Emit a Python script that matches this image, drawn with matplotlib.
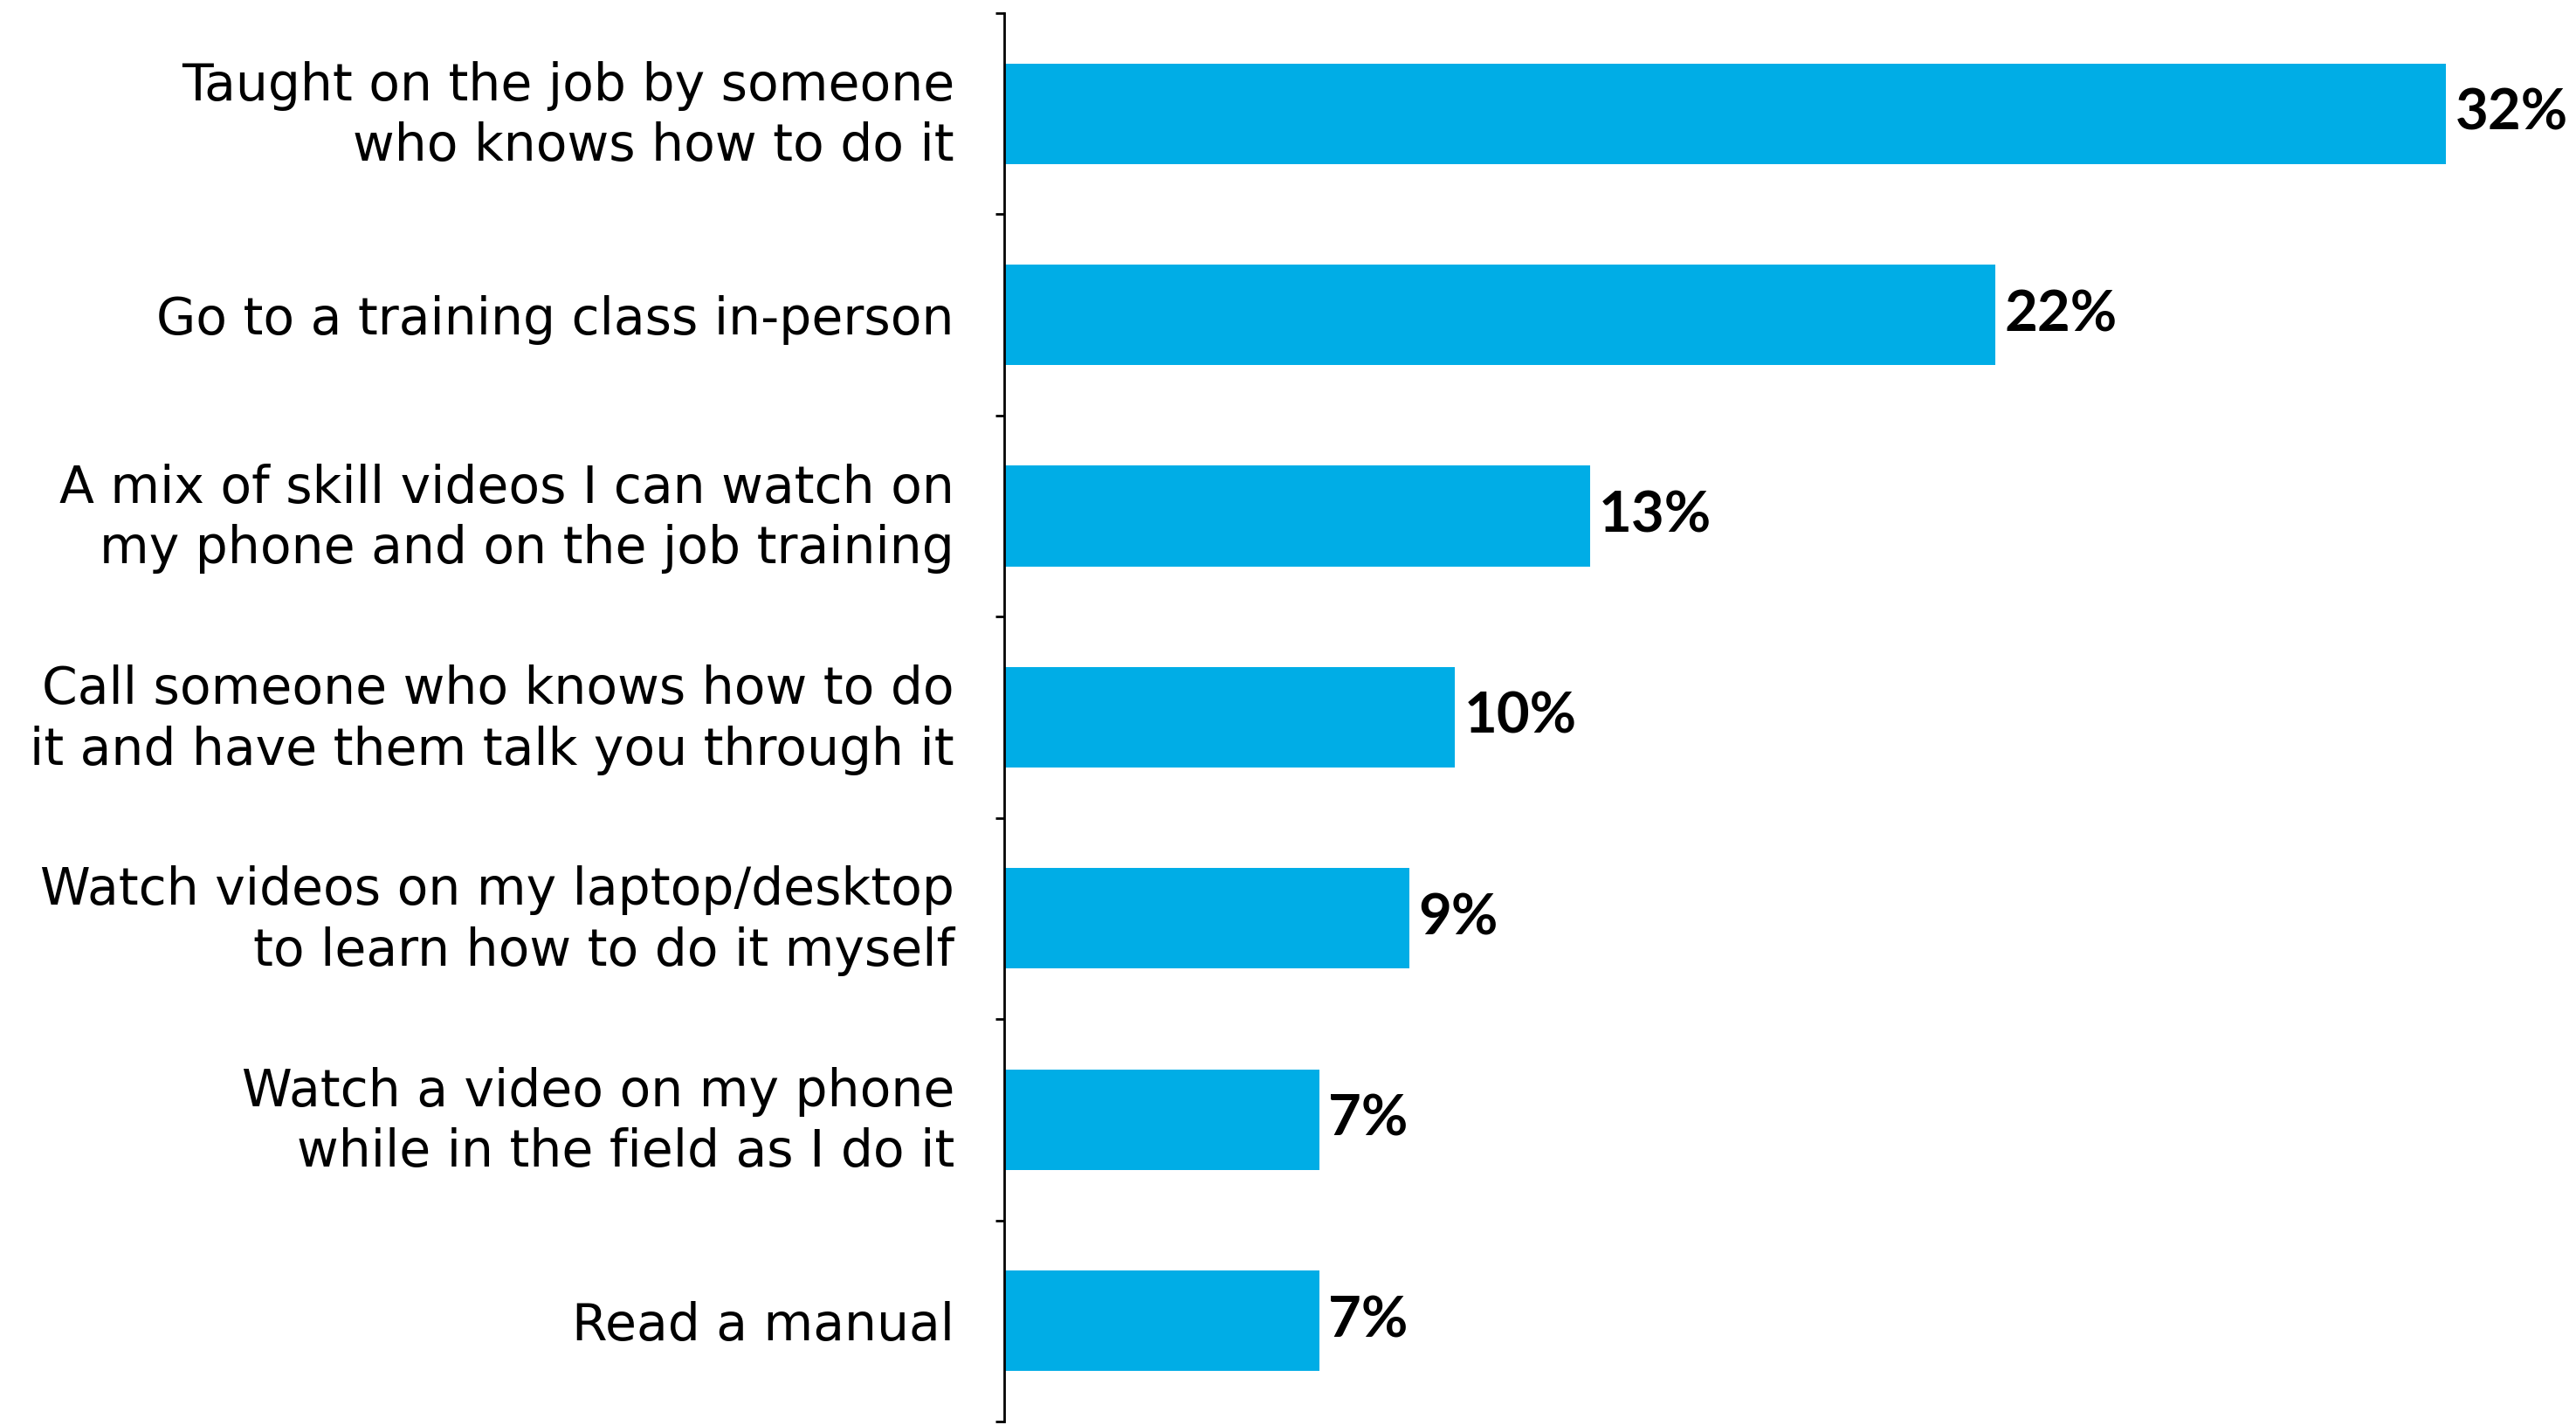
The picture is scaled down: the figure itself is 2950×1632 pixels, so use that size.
import matplotlib
matplotlib.use("Agg")
import matplotlib.pyplot as plt
from matplotlib.ticker import FixedLocator, NullLocator
from matplotlib.transforms import ScaledTranslation, blended_transform_factory

# Survey responses: preferred way to learn a new skill
categories = [
    "Taught on the job by someone\nwho knows how to do it",
    "Go to a training class in-person",
    "A mix of skill videos I can watch on\nmy phone and on the job training",
    "Call someone who knows how to do\nit and have them talk you through it",
    "Watch videos on my laptop/desktop\nto learn how to do it myself",
    "Watch a video on my phone\nwhile in the field as I do it",
    "Read a manual",
]
values = [32, 22, 13, 10, 9, 7, 7]
value_labels = ["32%", "22%", "13%", "10%", "9%", "7%", "7%"]

BAR_COLOR = "#00ADE6"
LABEL_FONT = ["DejaVu Sans"]
VALUE_FONT = ["Lato", "DejaVu Sans"]

fig = plt.figure(figsize=(14.75, 8.16), dpi=200)
ax = fig.add_axes([0.3898, 0.0025, 0.6102, 0.9883])

y = list(range(len(categories)))
ax.barh(y, values, height=0.5, color=BAR_COLOR, zorder=2)

ax.set_ylim(len(categories) - 0.5, -0.5)
ax.set_xlim(0, 34.88)

for yi, v, lab in zip(y, values, value_labels):
    ax.text(v + 0.2, yi, lab, va="center", ha="left", fontsize=23.5,
            fontweight="bold", family=VALUE_FONT, color="black")

# Category labels, right-aligned just left of the axis line
label_trans = blended_transform_factory(ax.transAxes, ax.transData)
for yi, cat in zip(y, categories):
    lift = 0.047 if "\n" in cat else 0.0
    off = ScaledTranslation(-20.5 / 72, lift, fig.dpi_scale_trans)
    ax.text(0, yi, cat, transform=label_trans + off, ha="right",
            va="center_baseline", fontsize=21, family=LABEL_FONT,
            linespacing=1.28, multialignment="right", color="black")

# Short ticks at the category boundaries
ax.yaxis.set_major_locator(NullLocator())
ax.yaxis.set_minor_locator(FixedLocator([i - 0.5 for i in range(len(categories) + 1)]))
ax.tick_params(axis="y", which="minor", length=3.5, width=1.0, direction="out",
               color="black")

ax.xaxis.set_major_locator(NullLocator())
for side in ("top", "right", "bottom"):
    ax.spines[side].set_visible(False)
ax.spines["left"].set_linewidth(1.0)
ax.spines["left"].set_color("black")

fig.savefig("out.png", dpi=200, facecolor="white")
